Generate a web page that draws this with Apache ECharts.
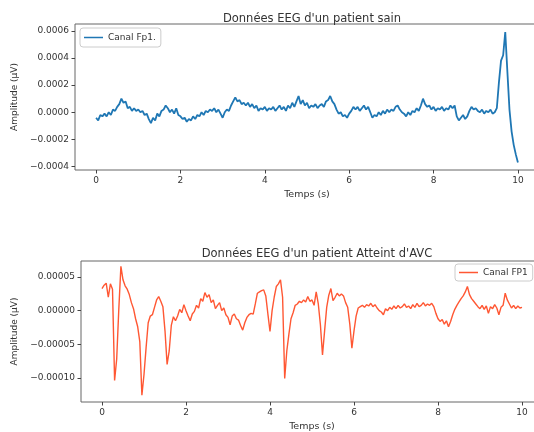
<!DOCTYPE html>
<html>
<head>
<meta charset="utf-8">
<script src="https://cdn.jsdelivr.net/npm/echarts@6/dist/echarts.min.js"></script>
<style>
  html, body { margin: 0; padding: 0; background: #fff; }
  #chart { width: 534px; height: 432px; }
</style>
</head>
<body>
<div id="chart"></div>
<script>
// pas d'échantillonnage (s)
const step = 0.05
const xTicks = [0, 2, 4, 6, 8, 10]

// patient sain, en unités de 1e-5 µV
const sainE5 = [
  -4, -6, -2, -3, -1, -3, 0, -2, 2, 1, 4, 6, 10, 7, 8, 3, 4, 1, 3, 1,
  2, 0, 1, -2, -1, -5, -8, -4, -6, -1, -3, 1, 2, 5, 3, 0, 2, -1, 3, -2,
  -3, -5, -4, -7, -5, -6, -3, -5, -2, -3, 0, -2, 1, 0, 2, 1, 3, 0, 2, -1,
  -4, 0, 2, 1, 5, 8, 11, 8, 9, 6, 7, 5, 7, 4, 6, 3, 5, 1, 3, 2,
  4, 1, 3, 2, 4, 1, 3, 5, 2, 4, 1, 5, 3, 7, 4, 8, 12, 6, 9, 5,
  7, 3, 5, 4, 6, 3, 5, 6, 4, 8, 9, 12, 8, 6, 2, -1, 0, -3, -2, -4,
  -1, 1, 4, 2, 4, 1, 3, 5, 2, 4, 0, -4, -2, -3, 0, -2, 1, -1, 2, 0,
  2, 1, 4, 5, 2, 0, -1, -3, 0, -2, 1, 0, 3, 1, 5, 10, 6, 4, 5, 2,
  4, 1, 3, 2, 4, 1, 3, 2, 5, 3, 5, -3, -6, -4, -2, -5, -3, 1, 4, 2,
  3, 1, 0, 2, -1, 1, 0, 2, -1, 0, 3, 22, 38, 42, 59, 30, 2, -14, -24, -31,
  -37
]
const sainTicks = [-0.0004, -0.0002, 0, 0.0002, 0.0004, 0.0006]

// patient atteint d'AVC, en unités de 1e-6 µV
const avcE6 = [
  33, 38, 41, 20, 40, 32, -104, -72, 2, 66, 46, 37, 32, 24, 12, 3, -12, -24, -46, -126,
  -95, -55, -18, -8, -6, 5, 16, 21, 14, 6, -30, -80, -60, -22, -9, -15, -8, 2, -3, 9,
  0, -8, -15, -5, -1, 8, 4, 18, 14, 27, 20, 24, 12, 16, 3, 8, 12, 0, 4, -6,
  -10, -21, -8, -5, -12, -14, -22, -29, -18, -10, -6, -4, -5, 10, 26, 28, 30, 31, 22, -5,
  -31, 0, 20, 36, 40, 46, 20, -101, -60, -35, -12, -3, 8, 10, 14, 12, 16, 13, 21, 14,
  16, 8, 28, 10, -21, -66, -30, 5, 23, 33, 15, 20, 26, 22, 25, 22, 12, 5, -20, -56,
  -30, -8, 4, 6, 8, 5, 9, 7, 11, 6, 9, 4, 0, -2, -6, 3, 0, 5, 2, 7,
  3, 8, 4, 6, 10, 5, 7, 3, 9, 5, 11, 6, 8, 12, 7, 10, 8, 11, 6, -4,
  -12, -16, -13, -20, -15, -24, -16, -6, 2, 8, 13, 18, 22, 28, 36, 24, 18, 14, 10, 6,
  3, 8, 2, 7, -4, 6, 3, 9, 4, -6, 5, 8, 26, 16, 10, 4, 8, 3, 7, 4,
  5
]
const avcTicks = [-0.0001, -0.00005, 0, 0.00005]

const toPairs = (vals, scale) => vals.map((v, i) => [+(i * step).toFixed(2), v * scale])
const fmt = (digits) => (v) => (v < 0 ? '\u2212' : '') + Math.abs(v).toFixed(digits)

const textColor = '#333'
const font = 'DejaVu Sans'

function xAxisOf(gridIndex) {
  return {
    type: 'value',
    gridIndex: gridIndex,
    position: 'bottom',
    min: -0.5,
    max: 10.5,
    name: 'Temps (s)',
    nameLocation: 'middle',
    nameGap: 20,
    nameTextStyle: { color: textColor, fontSize: 9.5, fontFamily: font },
    splitLine: { show: false },
    axisLine: { show: false, onZero: false },
    axisTick: { show: true, inside: false, length: 3.5, customValues: xTicks, lineStyle: { color: '#444' } },
    axisLabel: { customValues: xTicks, color: textColor, fontSize: 9, fontFamily: font, margin: 6 }
  }
}

function yAxisOf(gridIndex, min, max, ticks, digits, gap) {
  return {
    type: 'value',
    gridIndex: gridIndex,
    position: 'left',
    min: min,
    max: max,
    name: 'Amplitude (\u00b5V)',
    nameLocation: 'middle',
    nameGap: gap,
    nameRotate: 90,
    nameTextStyle: { color: textColor, fontSize: 9, fontFamily: font },
    splitLine: { show: false },
    axisLine: { show: false, onZero: false },
    axisTick: { show: true, inside: false, length: 3.5, customValues: ticks, lineStyle: { color: '#444' } },
    axisLabel: { customValues: ticks, formatter: fmt(digits), color: textColor, fontSize: 9, fontFamily: font, margin: 6 }
  }
}

const chart = echarts.init(document.getElementById('chart'), null, { renderer: 'canvas' })

chart.setOption({
  animation: false,
  backgroundColor: '#fff',
  title: [
    {
      text: "Donn\u00e9es EEG d'un patient sain",
      left: 307, top: 8, textAlign: 'center',
      textStyle: { color: textColor, fontSize: 11.5, fontWeight: 'normal', fontFamily: font }
    },
    {
      text: "Donn\u00e9es EEG d'un patient Atteint d'AVC",
      left: 312, top: 243, textAlign: 'center',
      textStyle: { color: textColor, fontSize: 11.5, fontWeight: 'normal', fontFamily: font }
    }
  ],
  legend: [
    {
      data: ['Canal Fp1.'],
      left: 80, top: 28,
      icon: 'rect', itemWidth: 19, itemHeight: 1.5, itemGap: 5,
      padding: [5, 5, 5, 4],
      borderColor: '#ccc', borderWidth: 1, borderRadius: 3,
      backgroundColor: '#fff',
      textStyle: { color: textColor, fontSize: 9, fontFamily: font }
    },
    {
      data: ['Canal FP1'],
      left: 455, top: 264,
      icon: 'rect', itemWidth: 19, itemHeight: 1.5, itemGap: 5,
      padding: [4, 5, 4, 4],
      borderColor: '#ccc', borderWidth: 1, borderRadius: 3,
      backgroundColor: '#fff',
      textStyle: { color: textColor, fontSize: 9, fontFamily: font }
    }
  ],
  grid: [
    { left: 75, top: 24, width: 464, height: 146, outerBoundsMode: 'none', show: true, borderColor: '#666', borderWidth: 1, backgroundColor: 'transparent' },
    { left: 81, top: 261, width: 462, height: 141, outerBoundsMode: 'none', show: true, borderColor: '#666', borderWidth: 1, backgroundColor: 'transparent' }
  ],
  xAxis: [xAxisOf(0), xAxisOf(1)],
  yAxis: [
    yAxisOf(0, -0.000425, 0.00065, sainTicks, 4, 52),
    yAxisOf(1, -0.000136, 0.000074, avcTicks, 5, 57)
  ],
  series: [
    {
      name: 'Canal Fp1.',
      type: 'line',
      xAxisIndex: 0, yAxisIndex: 0,
      data: toPairs(sainE5, 1e-5),
      showSymbol: false,
      itemStyle: { color: '#1f77b4' },
      lineStyle: { color: '#1f77b4', width: 1.8 }
    },
    {
      name: 'Canal FP1',
      type: 'line',
      xAxisIndex: 1, yAxisIndex: 1,
      data: toPairs(avcE6, 1e-6),
      showSymbol: false,
      itemStyle: { color: '#ff5733' },
      lineStyle: { color: '#ff5733', width: 1.4 }
    }
  ]
})
</script>
</body>
</html>
